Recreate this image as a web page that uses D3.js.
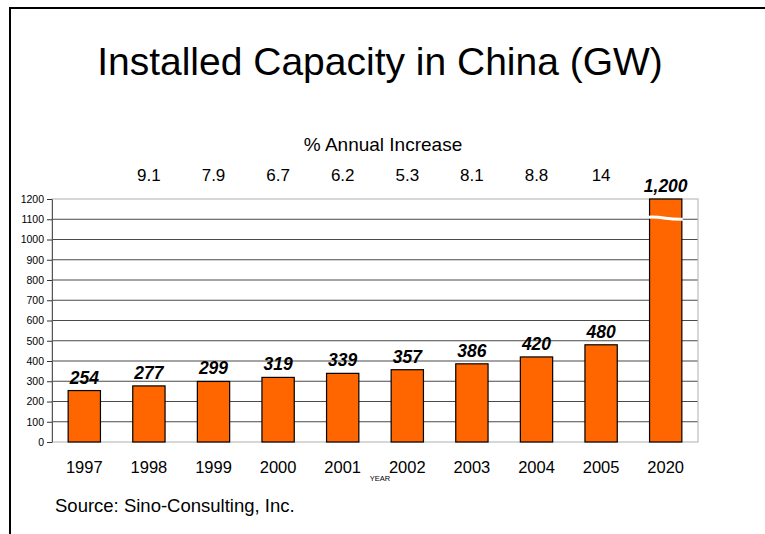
<!DOCTYPE html>
<html>
<head>
<meta charset="utf-8">
<script src="https://cdnjs.cloudflare.com/ajax/libs/d3/7.8.5/d3.min.js"></script>
<style>
  body { margin: 0; background: #fff; }
  svg { display: block; font-family: "Liberation Sans", Arial, sans-serif; }
</style>
</head>
<body>
<script>
// data
var years = ["1997", "1998", "1999", "2000", "2001", "2002", "2003", "2004", "2005", "2020"];
var capacity = [254, 277, 299, 319, 339, 357, 386, 420, 480, 1200];
var valueLabels = ["254", "277", "299", "319", "339", "357", "386", "420", "480", "1,200"];
var increaseYears = ["1998", "1999", "2000", "2001", "2002", "2003", "2004", "2005"];
var increase = ["9.1", "7.9", "6.7", "6.2", "5.3", "8.1", "8.8", "14"];
var yTicks = [0, 100, 200, 300, 400, 500, 600, 700, 800, 900, 1000, 1100, 1200];

var W = 765, H = 534;
var margin = {top: 199, right: 67, bottom: 92, left: 52},
    width = W - margin.left - margin.right,
    height = H - margin.top - margin.bottom;

var svg = d3.select("body").append("svg")
    .attr("width", W)
    .attr("height", H);

// slide frame (only left and top edges are visible)
svg.append("rect")
    .attr("x", 10).attr("y", 8)
    .attr("width", W + 20).attr("height", H + 20)
    .attr("fill", "none")
    .attr("stroke", "#000")
    .attr("stroke-width", 2);

svg.append("text")
    .attr("x", 380).attr("y", 75)
    .attr("text-anchor", "middle")
    .style("font-size", "39px")
    .text("Installed Capacity in China (GW)");

svg.append("text")
    .attr("x", 383).attr("y", 151)
    .attr("text-anchor", "middle")
    .style("font-size", "19px")
    .text("% Annual Increase");

var g = svg.append("g")
    .attr("transform", "translate(" + margin.left + "," + margin.top + ")");

var x = d3.scaleBand().domain(years).range([0, width]).paddingInner(0.5).paddingOuter(0.25);
var y = d3.scaleLinear().domain([0, 1200]).range([height, 0]);

// percent increase row
g.selectAll(".pct")
    .data(increase)
  .enter().append("text")
    .attr("class", "pct")
    .attr("x", (d, i) => x(increaseYears[i]) + x.bandwidth() / 2)
    .attr("y", -18)
    .attr("text-anchor", "middle")
    .style("font-size", "17px")
    .text(d => d);

// grid lines
g.selectAll(".grid")
    .data(yTicks.filter(t => t > 0 && t < 1200))
  .enter().append("line")
    .attr("class", "grid")
    .attr("x1", 0).attr("x2", width)
    .attr("y1", d => y(d)).attr("y2", d => y(d))
    .attr("stroke", "#4a4a4a")
    .attr("stroke-width", 1.2);

// plot border
g.append("rect")
    .attr("x", 0).attr("y", 0)
    .attr("width", width).attr("height", height)
    .attr("fill", "none")
    .attr("stroke", "#bdbdbd")
    .attr("stroke-width", 1.2);

// y axis
var yAxis = g.append("g")
    .call(d3.axisLeft(y).tickValues(yTicks).tickFormat(d3.format("d"))
      .tickSize(5).tickSizeOuter(0).tickPadding(3));
yAxis.select(".domain").attr("stroke", "#555");
yAxis.selectAll(".tick line").attr("stroke", "#333");
yAxis.selectAll("text")
    .style("font-size", "10.5px")
    .style("font-family", "'Liberation Sans', Arial, sans-serif")
    .attr("fill", "#000");

// bars
g.selectAll(".bar")
    .data(capacity)
  .enter().append("rect")
    .attr("class", "bar")
    .attr("x", (d, i) => x(years[i]))
    .attr("y", d => y(d))
    .attr("width", x.bandwidth())
    .attr("height", d => height - y(d))
    .attr("fill", "#ff6600")
    .attr("stroke", "#000")
    .attr("stroke-width", 1.2);

// axis break on the 2020 bar
var bx = x("2020"), bw = x.bandwidth(), by = y(1105);
g.append("path")
    .attr("d", "M" + (bx - 1) + "," + (by - 1) +
               " C" + (bx + bw * 0.35) + "," + (by - 2) + " " + (bx + bw * 0.65) + "," + (by + 2) + " " + (bx + bw + 1) + "," + (by + 1))
    .attr("fill", "none")
    .attr("stroke", "#fff")
    .attr("stroke-width", 3);

// value labels
g.selectAll(".val")
    .data(capacity)
  .enter().append("text")
    .attr("class", "val")
    .attr("x", (d, i) => x(years[i]) + x.bandwidth() / 2)
    .attr("y", d => y(d) - 7)
    .attr("text-anchor", "middle")
    .style("font-size", "17.5px")
    .style("font-weight", "bold")
    .style("font-style", "italic")
    .text((d, i) => valueLabels[i]);

// x axis labels
g.selectAll(".yr")
    .data(years)
  .enter().append("text")
    .attr("class", "yr")
    .attr("x", d => x(d) + x.bandwidth() / 2)
    .attr("y", height + 31)
    .attr("text-anchor", "middle")
    .style("font-size", "16.5px")
    .text(d => d);

svg.append("text")
    .attr("x", 380).attr("y", 481)
    .attr("text-anchor", "middle")
    .style("font-size", "7.5px")
    .text("YEAR");

svg.append("text")
    .attr("x", 55).attr("y", 512)
    .style("font-size", "18.5px")
    .text("Source: Sino-Consulting, Inc.");
</script>
</body>
</html>
